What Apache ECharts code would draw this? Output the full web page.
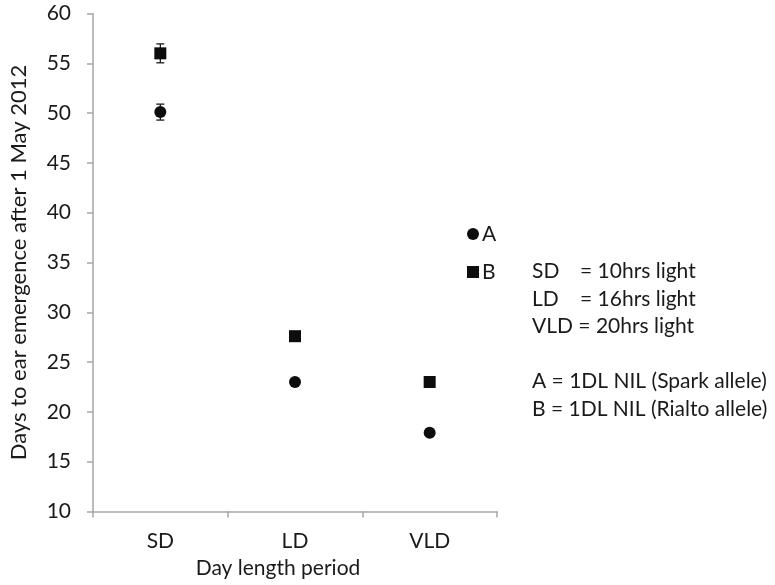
<!DOCTYPE html>
<html>
<head>
<meta charset="utf-8">
<script src="https://cdn.jsdelivr.net/npm/echarts@6/dist/echarts.min.js"></script>
<style>html,body{margin:0;padding:0;background:#fff;}#c{width:775px;height:585px;}</style>
</head>
<body>
<div id="c"></div>
<script>
var categories = ['SD', 'LD', 'VLD'];
var seriesA = [50.1, 23.0, 17.9];
var errA = [0.8, 0.15, 0.15];
var seriesB = [56.0, 27.6, 23.0];
var errB = [0.95, 0.15, 0.15];
var yTicks = {min: 10, max: 60, interval: 5};
var notes = ['SD', 'LD', 'VLD'];
var noteValues = ['= 10hrs light', '= 16hrs light', '= 20hrs light'];
var alleleNotes = ['A = 1DL NIL (Spark allele)', 'B = 1DL NIL (Rialto allele)'];

var FONT = 'Lato';
var FS = 21;
var TXT = '#1a1a1a';
var AX = '#a6a6a6';

function errData(vals, errs) {
  return vals.map(function (v, i) { return [i, v - errs[i], v + errs[i]]; });
}
function renderErr(params, api) {
  var x = api.value(0);
  var lo = api.coord([x, api.value(1)]);
  var hi = api.coord([x, api.value(2)]);
  var w = 4;
  var st = {stroke: '#1a1a1a', lineWidth: 1.3};
  return {type: 'group', children: [
    {type: 'line', shape: {x1: lo[0], y1: lo[1], x2: hi[0], y2: hi[1]}, style: st},
    {type: 'line', shape: {x1: lo[0] - w, y1: lo[1], x2: lo[0] + w, y2: lo[1]}, style: st},
    {type: 'line', shape: {x1: hi[0] - w, y1: hi[1], x2: hi[0] + w, y2: hi[1]}, style: st}
  ]};
}

var chart = echarts.init(document.getElementById('c'), null, {renderer: 'canvas'});
var graphics = [];
var LH = 27.5;
var top0 = 272.5 - FS / 2 - 1;
notes.forEach(function (n, i) {
  graphics.push({type: 'text', left: 532, top: top0 + i * LH,
    style: {text: i === 2 ? n + ' ' + noteValues[i] : n, font: FS + 'px ' + FONT, fill: TXT}});
  if (i < 2) graphics.push({type: 'text', left: 580, top: top0 + i * LH,
    style: {text: noteValues[i], font: FS + 'px ' + FONT, fill: TXT}});
});
alleleNotes.forEach(function (n, i) {
  graphics.push({type: 'text', left: 532, top: top0 + (4 + i) * LH,
    style: {text: n, font: FS + 'px ' + FONT, fill: TXT}});
});

chart.setOption({
  animation: false,
  backgroundColor: '#fff',
  textStyle: {fontFamily: FONT},
  grid: {left: 92, right: 278, top: 13.5, bottom: 73.5, containLabel: false},
  legend: {
    orient: 'vertical', left: 462, top: 218,
    itemWidth: 12, itemHeight: 12, itemGap: 16,
    textStyle: {fontSize: FS, color: TXT, fontFamily: FONT, lineHeight: 22, padding: [0, 0, 0, -2]},
    data: [{name: 'A', icon: 'circle'}, {name: 'B', icon: 'rect'}]
  },
  xAxis: {
    type: 'category', data: categories, boundaryGap: true,
    axisLine: {lineStyle: {color: AX, width: 1.5}},
    axisTick: {show: true, length: 6, lineStyle: {color: AX, width: 1.5}},
    axisLabel: {fontSize: FS, color: TXT, margin: 19, fontFamily: FONT},
    name: 'Day length period', nameLocation: 'middle', nameGap: 46,
    nameTextStyle: {fontSize: FS, color: TXT, fontFamily: FONT, padding: [0, 34, 0, 0]},
    splitLine: {show: false}
  },
  yAxis: {
    type: 'value', min: yTicks.min, max: yTicks.max, interval: yTicks.interval,
    axisLine: {show: true, lineStyle: {color: AX, width: 1.5}},
    axisTick: {show: true, length: 6, lineStyle: {color: AX, width: 1.5}},
    axisLabel: {fontSize: FS, color: TXT, margin: 22, fontFamily: FONT},
    splitLine: {show: false},
    name: 'Days to ear emergence after 1 May 2012', nameLocation: 'middle', nameGap: 63,
    nameTextStyle: {fontSize: 22, color: TXT, fontFamily: FONT}
  },
  series: [
    {type: 'custom', name: 'errA', renderItem: renderErr, data: errData(seriesA, errA), z: 1, silent: true},
    {type: 'custom', name: 'errB', renderItem: renderErr, data: errData(seriesB, errB), z: 1, silent: true},
    {type: 'scatter', name: 'A', data: seriesA, symbol: 'circle', symbolSize: 12,
      itemStyle: {color: '#0d0d0d', opacity: 1}, z: 3},
    {type: 'scatter', name: 'B', data: seriesB, symbol: 'rect', symbolSize: 12,
      itemStyle: {color: '#0d0d0d', opacity: 1}, z: 3}
  ],
  graphic: graphics
});
</script>
</body>
</html>
